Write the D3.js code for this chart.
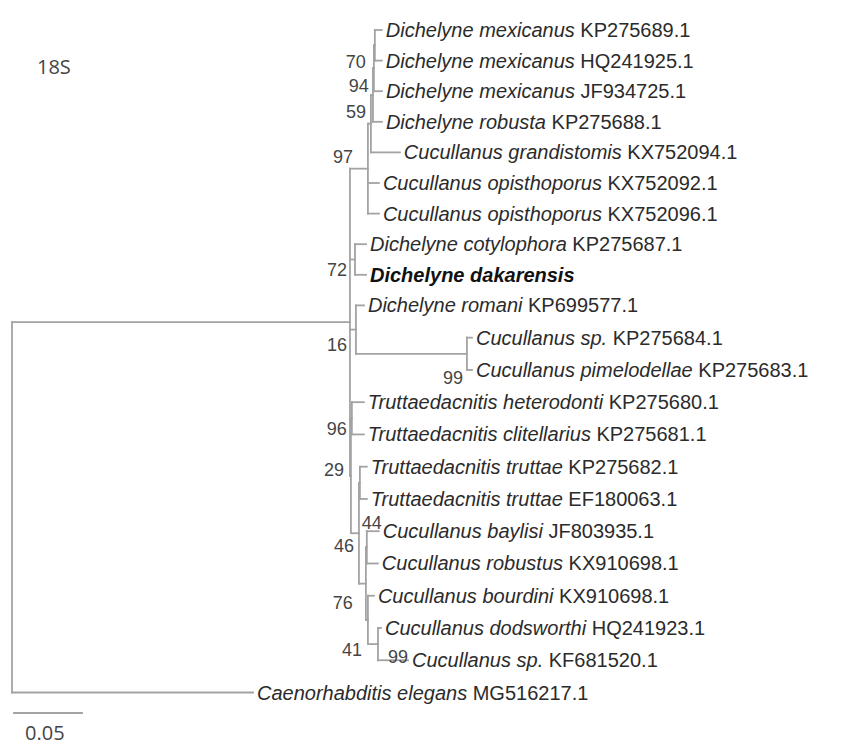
<!DOCTYPE html>
<meta charset="UTF-8">
<style>
  body { margin: 0; background: #fff; }
  svg { display: block; }
  .branch { stroke: #a3a3a3; stroke-width: 1.8; fill: none; stroke-linecap: square; }
  .tip { font-family: "Liberation Sans", Arial, sans-serif; font-size: 20px; fill: #2b2b2b; }
  .boot { font-family: "Liberation Sans", Arial, sans-serif; font-size: 18px; fill: #454545; }
  .note { font-family: "Open Sans", sans-serif; font-size: 20px; fill: #444; }
</style>
<svg width="846" height="745"></svg>
<script src="https://d3js.org/d3.v7.min.js"></script>
<script>
  // leaves, top to bottom: [id, species, accession]
  const leaves = [
    ['mex1', 'Dichelyne mexicanus', 'KP275689.1'],
    ['mex2', 'Dichelyne mexicanus', 'HQ241925.1'],
    ['mex3', 'Dichelyne mexicanus', 'JF934725.1'],
    ['robusta', 'Dichelyne robusta', 'KP275688.1'],
    ['grand', 'Cucullanus grandistomis', 'KX752094.1'],
    ['opis1', 'Cucullanus opisthoporus', 'KX752092.1'],
    ['opis2', 'Cucullanus opisthoporus', 'KX752096.1'],
    ['coty', 'Dichelyne cotylophora', 'KP275687.1'],
    ['dakar', 'Dichelyne dakarensis', ''],
    ['romani', 'Dichelyne romani', 'KP699577.1'],
    ['cucsp1', 'Cucullanus sp.', 'KP275684.1'],
    ['pimel', 'Cucullanus pimelodellae', 'KP275683.1'],
    ['hetero', 'Truttaedacnitis heterodonti', 'KP275680.1'],
    ['clit', 'Truttaedacnitis clitellarius', 'KP275681.1'],
    ['trut1', 'Truttaedacnitis truttae', 'KP275682.1'],
    ['trut2', 'Truttaedacnitis truttae', 'EF180063.1'],
    ['bayl', 'Cucullanus baylisi', 'JF803935.1'],
    ['robus', 'Cucullanus robustus', 'KX910698.1'],
    ['bourd', 'Cucullanus bourdini', 'KX910698.1'],
    ['dods', 'Cucullanus dodsworthi', 'HQ241923.1'],
    ['cucsp2', 'Cucullanus sp.', 'KF681520.1'],
    ['elegans', 'Caenorhabditis elegans', 'MG516217.1']
  ];
  const highlight = ['dakar'];

  // edges: [child, parent, branch length]
  const edges = [
    ['root', null, 0],
    ['ingroup', 'root', 0.2485],
    ['elegans', 'root', 0.1772],
    ['n97', 'ingroup', 0.0132],
    ['nB', 'n97', 0.0022],
    ['n59', 'nB', 0.0015],
    ['n94', 'n59', 0.0007],
    ['n70', 'n94', 0.0007],
    ['mex1', 'n70', 0.0051],
    ['mex2', 'n70', 0.0051],
    ['mex3', 'n94', 0.0059],
    ['robusta', 'n59', 0.0066],
    ['grand', 'nB', 0.0213],
    ['opis1', 'n97', 0.0081],
    ['opis2', 'n97', 0.0081],
    ['n72', 'ingroup', 0.0037],
    ['coty', 'n72', 0.0081],
    ['dakar', 'n72', 0.0081],
    ['n16', 'ingroup', 0.0044],
    ['romani', 'n16', 0.0059],
    ['n99a', 'n16', 0.0816],
    ['cucsp1', 'n99a', 0.0037],
    ['pimel', 'n99a', 0.0037],
    ['n29', 'ingroup', 0.0007],
    ['n96', 'n29', 0.0007],
    ['hetero', 'n96', 0.0088],
    ['clit', 'n96', 0.0088],
    ['n46', 'n29', 0.0059],
    ['ntrut', 'n46', 0.0007],
    ['trut1', 'ntrut', 0.0051],
    ['trut2', 'ntrut', 0.0051],
    ['n76', 'n46', 0.0051],
    ['n44', 'n76', 0.0007],
    ['bayl', 'n44', 0.0088],
    ['robus', 'n44', 0.0081],
    ['n41', 'n76', 0.0015],
    ['bourd', 'n41', 0.0044],
    ['n99b', 'n41', 0.0074],
    ['dods', 'n99b', 0.0022],
    ['cucsp2', 'n99b', 0.0221]
  ];

  // bootstrap support per node
  const support = {
    n70: 70, n94: 94, n59: 59, n97: 97, n72: 72, n16: 16, n99a: 99,
    n96: 96, n29: 29, n46: 46, n44: 44, n76: 76, n41: 41, n99b: 99
  };

  const scaleBar = 0.05;
  const title = '18S';

  // label nudges relative to node [dx, dy, anchor]
  const nudge = {
    n70: [-9, 16, 'end'], n94: [-5, 17, 'end'], n59: [-7, 17, 'end'],
    n97: [-15, -12, 'end'], n72: [-8, 10, 'end'], n16: [-9, 15, 'end'],
    n99a: [-4, 24, 'end'], n96: [-5, 10, 'end'], n29: [-7, -6, 'end'],
    n46: [-5, 12, 'end'], n44: [-5, -25, 'start'], n76: [-13, 19, 'end'],
    n41: [-6, 30, 'end'], n99b: [10, 13, 'start']
  };

  const svg = d3.select('svg');

  const x = d3.scaleLinear().domain([0, scaleBar]).range([12, 80]);
  const leafIndex = new Map(leaves.map((d, i) => [d[0], i]));
  const y = d3.scaleLinear().domain([0, 9, leaves.length - 1]).range([30, 305.4, 692.5]);

  const root = d3.stratify()
    .id(d => d[0])
    .parentId(d => d[1])(edges);

  root.eachBefore(n => {
    n.len = n.parent ? n.parent.len + n.data[2] : 0;
    n.px = x(n.len);
  });
  root.eachAfter(n => {
    if (n.children) {
      const ext = d3.extent(n.children, c => c.py);
      n.py = (ext[0] + ext[1]) / 2;
    } else {
      n.py = y(leafIndex.get(n.id));
    }
  });

  const g = svg.append('g');

  // horizontal branches
  g.selectAll('line.h')
    .data(root.descendants().filter(n => n.parent))
    .enter().append('line').attr('class', 'branch')
      .attr('x1', n => n.parent.px)
      .attr('x2', n => n.px)
      .attr('y1', n => n.py)
      .attr('y2', n => n.py);

  // vertical connectors
  g.selectAll('line.v')
    .data(root.descendants().filter(n => n.children))
    .enter().append('line').attr('class', 'branch')
      .attr('x1', n => n.px)
      .attr('x2', n => n.px)
      .attr('y1', n => d3.min(n.children, c => c.py))
      .attr('y2', n => d3.max(n.children, c => c.py));

  // tip labels
  const lab = g.selectAll('text.tip')
    .data(root.leaves())
    .enter().append('text').attr('class', 'tip')
      .attr('x', n => n.px + 4)
      .attr('y', n => n.py)
      .attr('dy', '0.35em');
  lab.append('tspan')
    .style('font-style', 'italic')
    .style('font-weight', n => highlight.includes(n.id) ? 'bold' : null)
    .attr('fill', n => highlight.includes(n.id) ? '#111' : null)
    .text(n => leaves[leafIndex.get(n.id)][1]);
  lab.append('tspan')
    .text(n => {
      const acc = leaves[leafIndex.get(n.id)][2];
      return acc ? ' ' + acc : '';
    });

  // bootstrap values
  g.selectAll('text.boot')
    .data(root.descendants().filter(n => support[n.id] != null))
    .enter().append('text').attr('class', 'boot')
      .attr('x', n => n.px + nudge[n.id][0])
      .attr('y', n => n.py + nudge[n.id][1])
      .attr('dy', '0.35em')
      .attr('text-anchor', n => nudge[n.id][2])
      .text(n => support[n.id]);

  // scale bar
  svg.append('line').attr('class', 'branch')
    .attr('x1', x(0) + 2).attr('x2', x(scaleBar) + 2)
    .attr('y1', 713).attr('y2', 713);
  svg.append('text').attr('class', 'note')
    .attr('x', x(0) + 13).attr('y', 740)
    .text(scaleBar.toFixed(2));

  svg.append('text').attr('class', 'note')
    .attr('x', 37).attr('y', 74)
    .text(title);
</script>
